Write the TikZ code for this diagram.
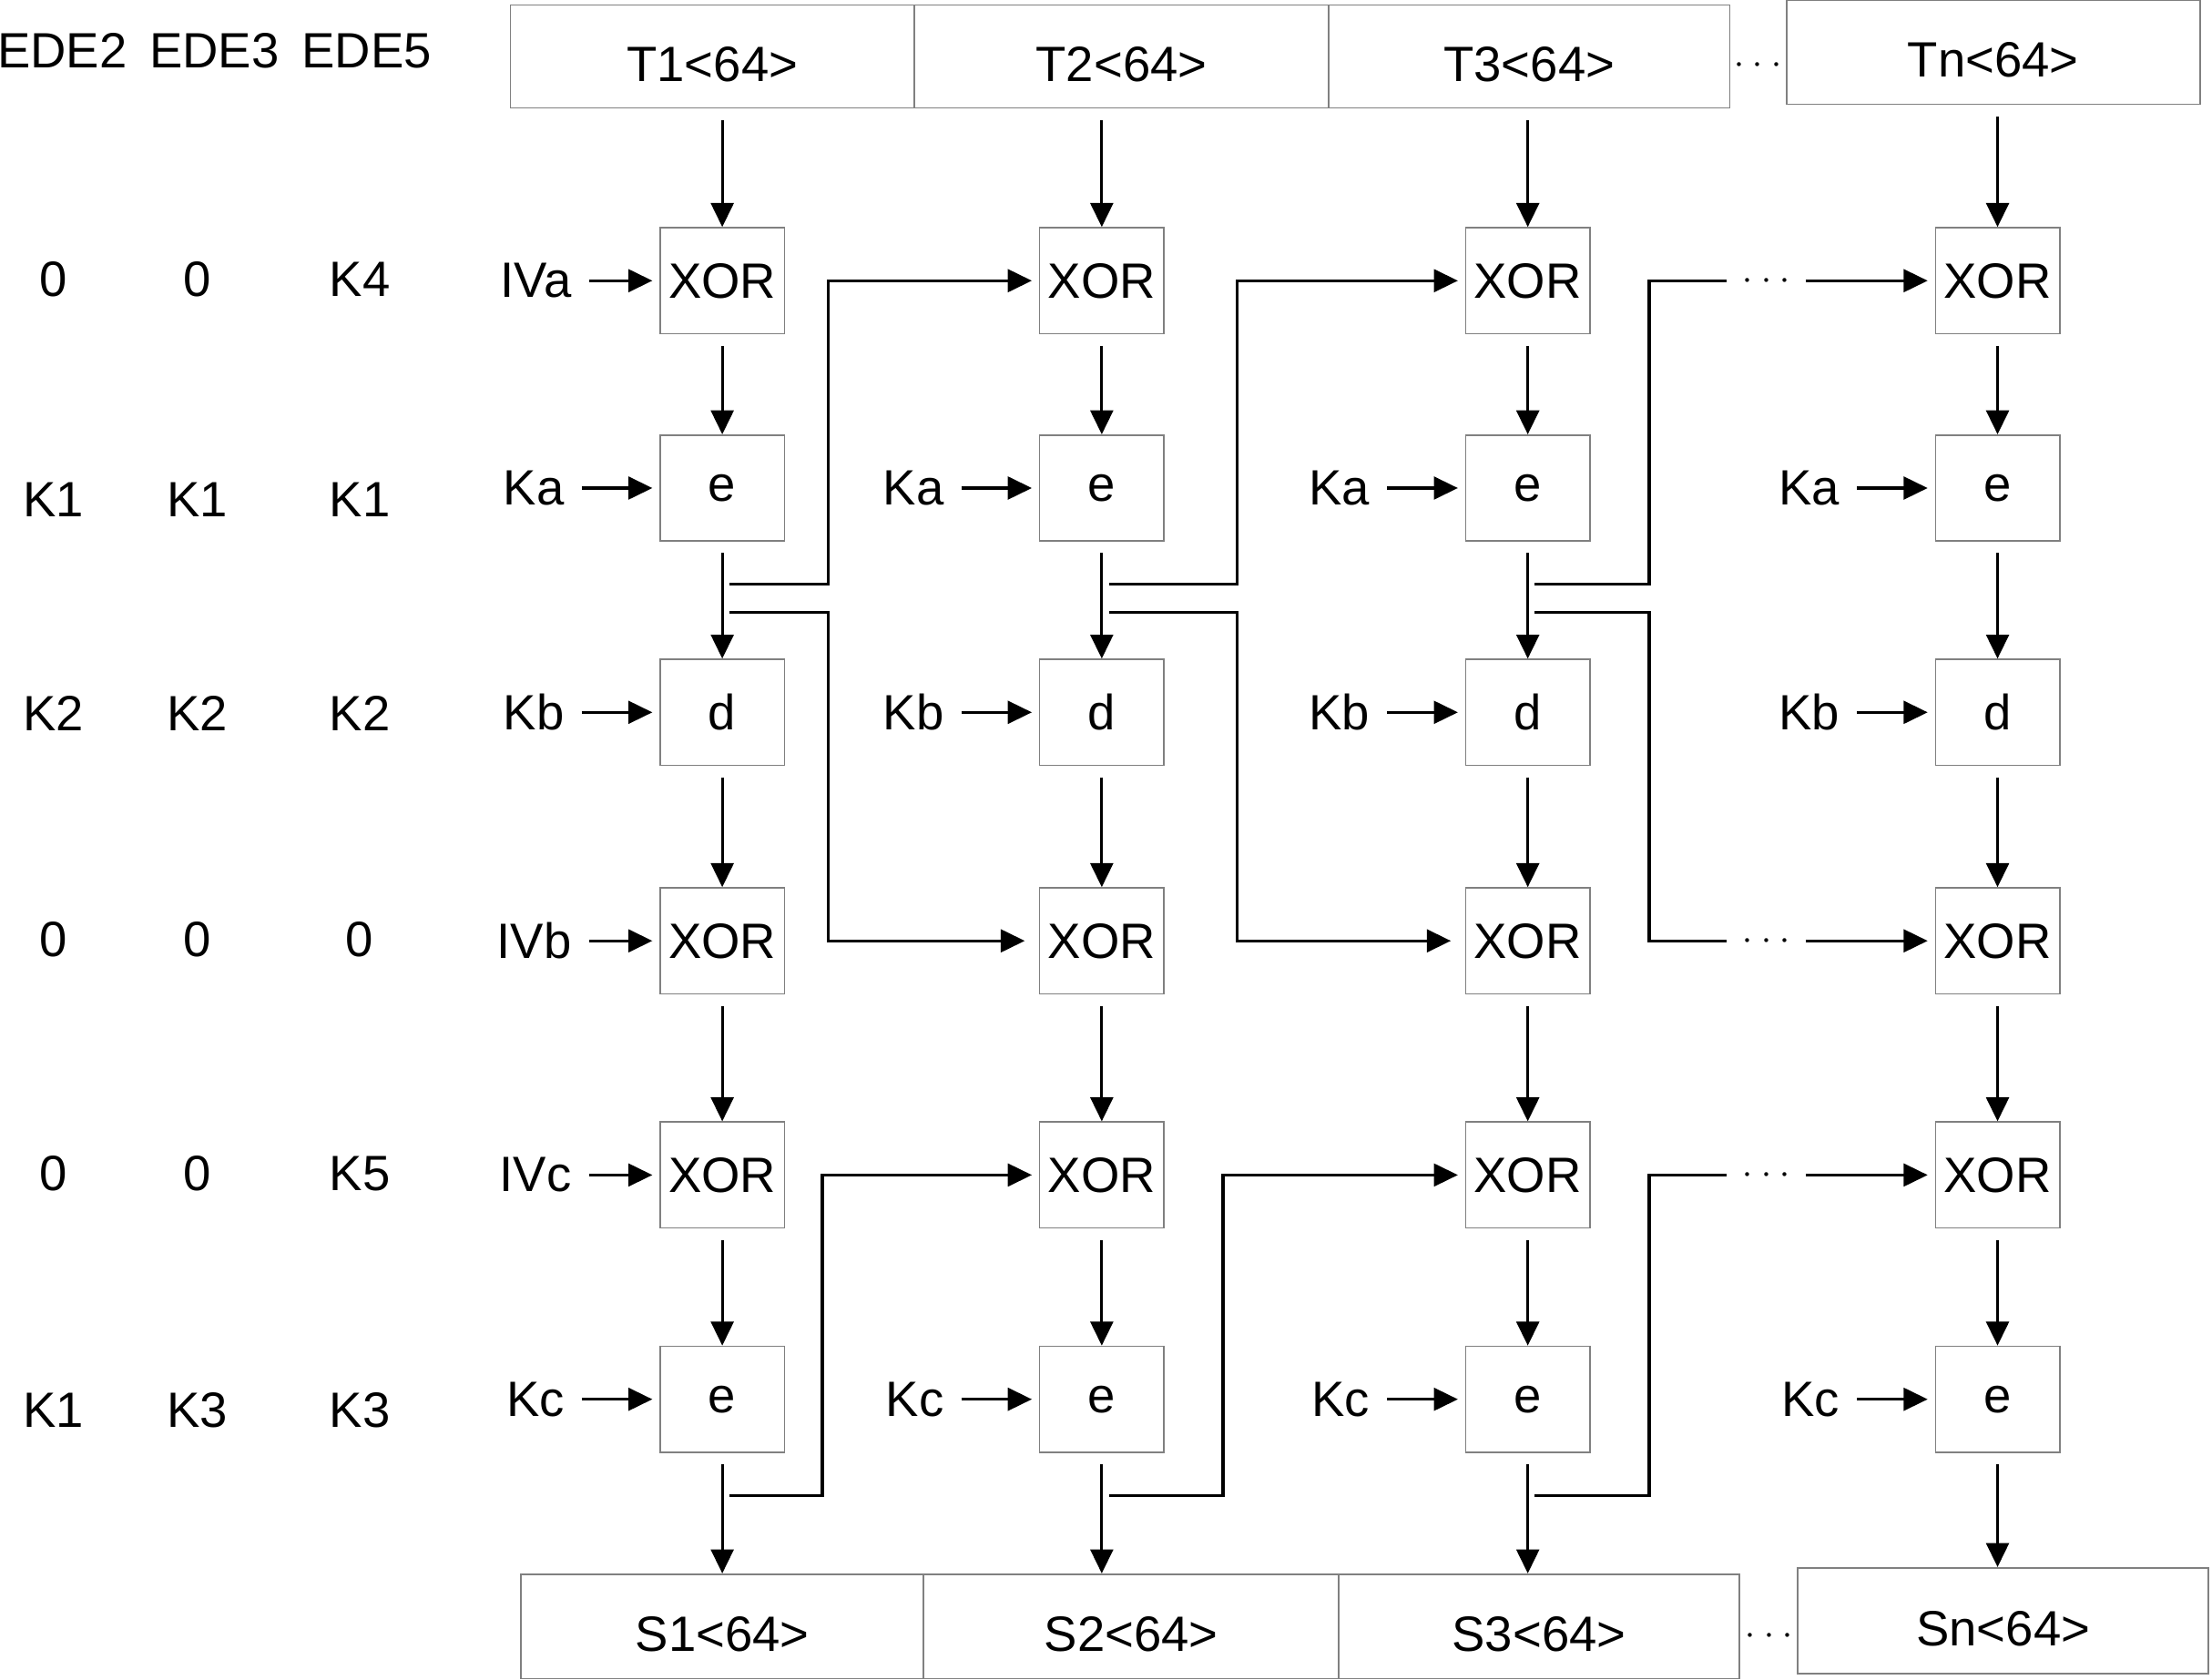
\documentclass[tikz,border=0pt]{standalone}
\usepackage{fontspec}
\setmainfont{Liberation Sans}
\usetikzlibrary{positioning,arrows.meta}

\begin{document}
\begin{tikzpicture}[x=0.01cm,y=-0.01cm,font=\fontsize{10}{12}\selectfont,
  >={Triangle[length=0.17cm,width=0.16cm]},
  blk/.style={draw=black!50,line width=0.3pt,minimum width=0.88cm,minimum height=0.75cm,inner sep=0pt},
  cell/.style={draw=black!50,line width=0.3pt,minimum height=0.73cm,inner sep=0pt,text height=0.35cm,text depth=0pt},
  flow/.style={->,line width=0.6pt,shorten <=0.08cm},
  keyin/.style={->,line width=0.6pt,shorten >=0.05cm},
  tap/.style={line width=0.6pt,shorten <=0.05cm},
  gap/.style={inner sep=0.1cm,font=\fontsize{7}{8}\selectfont}]
\useasboundingbox (0,0) rectangle (1568,1191);

% mode table
\node (hd2) at (44,36) {EDE2};
\node (hd3) at (152,36) {EDE3};
\node (hd5) at (260,36) {EDE5};
\foreach \y/\ca/\cb/\cc [count=\r] in {198/0/0/K4,354/K1/K1/K1,506/K2/K2/K2,
    666/0/0/0,832/0/0/K5,1000/K1/K3/K3}{
  \node (ma\r) at (38,\y) {\ca};
  \node (mb\r) at (140,\y) {\cb};
  \node (mc\r) at (255,\y) {\cc};
}

% input and output blocks
\node[cell,minimum width=2.86cm] (t1) at (505,40) {T1<64>};
\node[cell,minimum width=2.94cm] (t2) at (795,40) {T2<64>};
\node[cell,minimum width=2.84cm] (t3) at (1084,40) {T3<64>};
\node[gap] (tgap) at (1246,46) {$\cdots$};
\node[cell,minimum width=2.93cm,minimum height=0.74cm] (t4) at (1413,37) {Tn<64>};
\node[cell,minimum width=2.85cm,minimum height=0.74cm] (s1) at (512,1153) {S1<64>};
\node[cell,minimum width=2.94cm,minimum height=0.74cm] (s2) at (802,1153) {S2<64>};
\node[cell,minimum width=2.84cm,minimum height=0.74cm] (s3) at (1091,1153) {S3<64>};
\node[gap] (sgap) at (1254,1160) {$\cdots$};
\node[cell,minimum width=2.91cm,minimum height=0.75cm] (s4) at (1420,1149) {Sn<64>};

% one column per block
\foreach \cx [count=\k] in {512,781,1083,1416}{
  \node[blk] (xa\k) at (\cx,199) {XOR};
  \node[blk] (ea\k) at (\cx,346) {e};
  \node[blk] (db\k) at (\cx,505) {d};
  \node[blk] (xb\k) at (\cx,667) {XOR};
  \node[blk] (xc\k) at (\cx,833) {XOR};
  \node[blk] (ec\k) at (\cx,992) {e};
  \node[left=0.55cm of ea\k] (ka\k) {Ka};
  \node[left=0.55cm of db\k] (kb\k) {Kb};
  \node[left=0.55cm of ec\k] (kc\k) {Kc};
  \draw[keyin] (ka\k) -- (ea\k);
  \draw[keyin] (kb\k) -- (db\k);
  \draw[keyin] (kc\k) -- (ec\k);
  \draw[flow] (t\k.south -| xa\k) -- (xa\k);
  \draw[flow] (xa\k) -- (ea\k);
  \draw[flow] (ea\k) -- (db\k);
  \draw[flow] (db\k) -- (xb\k);
  \draw[flow] (xb\k) -- (xc\k);
  \draw[flow] (xc\k) -- (ec\k);
  \draw[flow] (ec\k) -- (ec\k |- s\k.north);
  \coordinate (ja\k) at ([yshift=-0.3cm]ea\k.south);
  \coordinate (jb\k) at ([yshift=-0.5cm]ea\k.south);
  \coordinate (jc\k) at ([yshift=-0.3cm]ec\k.south);
}

% initial vectors
\node[left=0.5cm of xa1] (iva) {IVa};
\node[left=0.5cm of xb1] (ivb) {IVb};
\node[left=0.5cm of xc1] (ivc) {IVc};
\draw[keyin] (iva) -- (xa1);
\draw[keyin] (ivb) -- (xb1);
\draw[keyin] (ivc) -- (xc1);

% chaining to the next column
\foreach \k/\n/\rx/\bx in {1/2/587/583,2/3/877/867}{
  \coordinate (rt\k) at (\rx,0);
  \coordinate (rb\k) at (\bx,0);
  \draw[tap,->,shorten >=0.05cm] (ja\k) -| (rt\k |- xa\n) -- (xa\n);
  \draw[tap,->,shorten >=0.1cm] (jb\k) -| (rt\k |- xb\n) -- (xb\n);
  \draw[tap,->,shorten >=0.05cm] (jc\k) -| (rb\k |- xc\n) -- (xc\n);
}
\coordinate (rt3) at (1169,0);
\node[gap] (ga) at (1252,199) {$\cdots$};
\node[gap] (gb) at (1252,667) {$\cdots$};
\node[gap] (gc) at (1252,833) {$\cdots$};
\draw[tap] (ja3) -| (rt3 |- ga) -- (ga);
\draw[tap] (jb3) -| (rt3 |- gb) -- (gb);
\draw[tap] (jc3) -| (rt3 |- gc) -- (gc);
\draw[keyin] (ga) -- (xa4);
\draw[keyin] (gb) -- (xb4);
\draw[keyin] (gc) -- (xc4);
\end{tikzpicture}
\end{document}
